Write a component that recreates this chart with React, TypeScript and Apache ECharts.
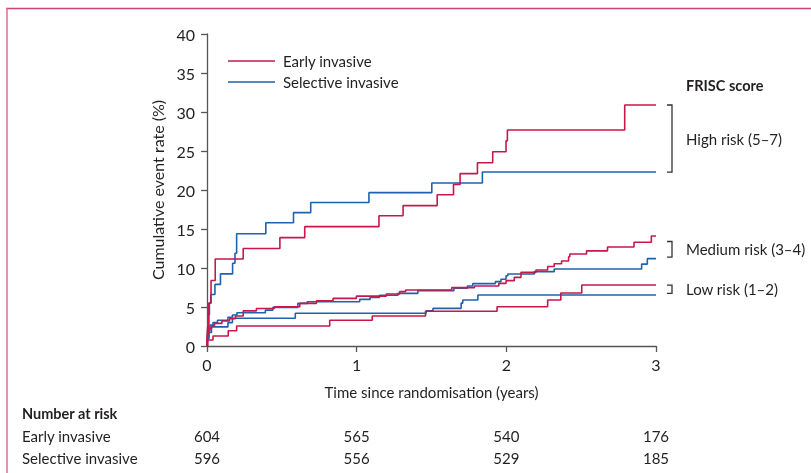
import React, { useEffect, useRef } from "react";
import * as echarts from "echarts";

// ---- Data (time in years, cumulative event rate %) ----
const highEarly: [number, number][] = [
  [0, 0], [0.004, 2.5], [0.012, 5.5], [0.027, 8.4], [0.055, 11.15], [0.242, 12.5], [0.487, 13.9],
  [0.653, 15.3], [1.149, 16.7], [1.31, 18.0], [1.538, 19.4], [1.647, 20.7], [1.691, 22.1],
  [1.807, 23.5], [1.909, 24.9], [1.998, 26.3], [2.007, 27.7], [2.791, 30.9], [3, 30.9],
];
const highSelective: [number, number][] = [
  [0, 0], [0.004, 2.0], [0.01, 4.0], [0.016, 5.5], [0.025, 6.6], [0.053, 7.9], [0.09, 9.25],
  [0.171, 10.6], [0.187, 11.9], [0.198, 14.4], [0.393, 15.8], [0.578, 17.1], [0.693, 18.4],
  [1.082, 19.66], [1.502, 20.9], [1.84, 22.3], [3, 22.3],
];
const mediumEarly: [number, number][] = [
  [0, 0], [0.003, 1.5], [0.008, 2.26], [0.03, 2.6], [0.05, 2.9], [0.1, 3.2], [0.15, 3.5],
  [0.19, 3.85], [0.242, 4.5], [0.33, 4.8], [0.45, 5.04], [0.62, 5.47], [0.731, 5.8], [0.842, 6.1],
  [0.998, 6.4], [1.198, 6.67], [1.287, 6.97], [1.327, 7.18], [1.635, 7.48], [1.787, 7.7],
  [1.95, 8.03], [1.998, 8.38], [2.053, 8.8], [2.098, 9.44], [2.198, 9.74], [2.276, 10.2],
  [2.32, 10.55], [2.369, 10.9], [2.416, 11.45], [2.424, 11.8], [2.536, 12.2], [2.676, 12.7],
  [2.853, 13.3], [2.969, 14.1], [3, 14.1],
];
const mediumSelective: [number, number][] = [
  [0, 0], [0.004, 1.0], [0.013, 1.96], [0.02, 2.7], [0.04, 3.0], [0.07, 3.3], [0.14, 3.68],
  [0.17, 3.97], [0.2, 4.27], [0.39, 4.6], [0.44, 4.95], [0.607, 5.47], [0.67, 5.68], [1.02, 5.98],
  [1.09, 6.24], [1.153, 6.5], [1.276, 6.75], [1.409, 7.1], [1.65, 7.4], [1.74, 7.7], [1.776, 8.0],
  [1.927, 8.25], [1.964, 8.55], [1.998, 9.0], [2.01, 9.23], [2.187, 9.53], [2.32, 9.87],
  [2.904, 10.5], [2.942, 11.2], [3, 11.2],
];
const lowEarly: [number, number][] = [
  [0, 0], [0.005, 0.77], [0.04, 1.28], [0.142, 1.96], [0.198, 2.56], [0.82, 3.3], [1.104, 3.85],
  [1.46, 4.45], [1.938, 5.04], [2.276, 5.9], [2.364, 6.8], [2.504, 7.82], [3, 7.82],
];
const lowSelective: [number, number][] = [
  [0, 0], [0.004, 1.0], [0.012, 1.75], [0.03, 2.45], [0.14, 3.0], [0.17, 3.55], [0.59, 4.2],
  [1.464, 4.5], [1.51, 4.83], [1.698, 5.5], [1.709, 5.9], [1.81, 6.54], [3, 6.54],
];

const groupNames = ["Early invasive", "Selective invasive"];
const riskLabels = ["High risk (5–7)", "Medium risk (3–4)", "Low risk (1–2)"];
const bracketRanges: [number, number][] = [[30.9, 22.3], [13.4, 11.4], [7.8, 6.75]];
const riskTimes = [0, 1, 2, 3];
const atRiskEarly = [604, 565, 540, 176];
const atRiskSelective = [596, 556, 529, 185];

const RED = "#c8174a";
const BLUE = "#1f62ad";
const FONT = "Lato";
const TXT = "#231f20";
const AX = "#555555";

export default function App() {
  const ref = useRef<HTMLDivElement>(null);
  useEffect(() => {
    if (!ref.current) return;
    const chart = echarts.init(ref.current, null, { renderer: "svg" });
    const mk = (name: string, data: [number, number][], color: string) => ({
      type: "line",
      name,
      data,
      step: "end",
      showSymbol: false,
      symbol: "none",
      lineStyle: { color, width: 1.6 },
      itemStyle: { color },
      z: color === RED ? 3 : 2,
    });
    chart.setOption({
      animation: false,
      textStyle: { fontFamily: FONT },
      grid: { left: 207, top: 34, right: 155, bottom: 127 },
      xAxis: {
        type: "value",
        min: 0,
        max: 3,
        interval: 1,
        axisLine: { lineStyle: { color: AX, width: 1.3 } },
        axisTick: { length: 6, lineStyle: { color: AX, width: 1.3 } },
        axisLabel: { color: TXT, fontSize: 16, margin: 10, fontFamily: FONT },
        splitLine: { show: false },
        name: "Time since randomisation (years)",
        nameLocation: "middle",
        nameGap: 38,
        nameTextStyle: { color: TXT, fontSize: 15, fontFamily: FONT },
      },
      yAxis: {
        type: "value",
        min: 0,
        max: 40,
        interval: 5,
        axisLine: { show: true, lineStyle: { color: AX, width: 1.3 } },
        axisTick: { show: true, length: 6, lineStyle: { color: AX, width: 1.3 } },
        axisLabel: { color: TXT, fontSize: 16, margin: 12, fontFamily: FONT },
        splitLine: { show: false },
        name: "Cumulative event rate (%)",
        nameLocation: "middle",
        nameGap: 40,
        nameTextStyle: { color: TXT, fontSize: 16, fontFamily: FONT },
      },
      series: [
        mk(groupNames[1], highSelective, BLUE),
        mk(groupNames[0], highEarly, RED),
        mk(groupNames[1], mediumSelective, BLUE),
        mk(groupNames[0], mediumEarly, RED),
        mk(groupNames[1], lowSelective, BLUE),
        mk(groupNames[0], lowEarly, RED),
      ],
    });

    const px = (x: number, y: number) => chart.convertToPixel({ gridIndex: 0 }, [x, y]) as number[];
    const graphics: any[] = [];
    // page border
    graphics.push({ type: "line", shape: { x1: 6, y1: 8.5, x2: 811, y2: 8.5 }, style: { stroke: "#cc4470", lineWidth: 1.5 } });
    graphics.push({ type: "line", shape: { x1: 7, y1: 8, x2: 7, y2: 473 }, style: { stroke: "#d9718f", lineWidth: 1.5 } });
    // legend
    [RED, BLUE].forEach((c, i) => {
      const y = 61 + i * 21;
      graphics.push({ type: "line", shape: { x1: 228, y1: y, x2: 275, y2: y }, style: { stroke: c, lineWidth: 1.6 } });
      graphics.push({
        type: "text", x: 283, y,
        style: { text: groupNames[i], fill: TXT, font: `15px ${FONT}`, verticalAlign: "middle" },
      });
    });
    // brackets
    const xEnd = px(3, 0)[0];
    const bx = xEnd + 16;
    graphics.push({
      type: "text", x: bx + 14, y: 85,
      style: { text: "FRISC score", fill: TXT, font: `bold 14.5px ${FONT}`, verticalAlign: "middle" },
    });
    bracketRanges.forEach(([top, bot], i) => {
      const yt = px(3, top)[1];
      const yb = px(3, bot)[1];
      graphics.push({
        type: "polyline",
        shape: { points: [[bx - 5, yt], [bx, yt], [bx, yb], [bx - 5, yb]] },
        style: { stroke: "#333", lineWidth: 1.3, fill: null },
      });
      graphics.push({
        type: "text", x: bx + 14, y: (yt + yb) / 2,
        style: { text: riskLabels[i], fill: TXT, font: `15px ${FONT}`, verticalAlign: "middle" },
      });
    });
    // number at risk table
    graphics.push({ type: "text", x: 22, y: 413, style: { text: "Number at risk", fill: TXT, font: `bold 14.5px ${FONT}`, verticalAlign: "middle" } });
    [atRiskEarly, atRiskSelective].forEach((row, r) => {
      const y = 436 + r * 22;
      graphics.push({ type: "text", x: 22, y, style: { text: groupNames[r], fill: TXT, font: `15px ${FONT}`, verticalAlign: "middle" } });
      row.forEach((v, i) => {
        const x = px(riskTimes[i], 0)[0];
        graphics.push({ type: "text", x, y, style: { text: String(v), fill: TXT, font: `15px ${FONT}`, align: "center", verticalAlign: "middle" } });
      });
    });
    chart.setOption({ graphic: graphics });
    return () => chart.dispose();
  }, []);
  return <div ref={ref} style={{ position: "fixed", left: 0, top: 0, width: 811, height: 473 }} />;
}
